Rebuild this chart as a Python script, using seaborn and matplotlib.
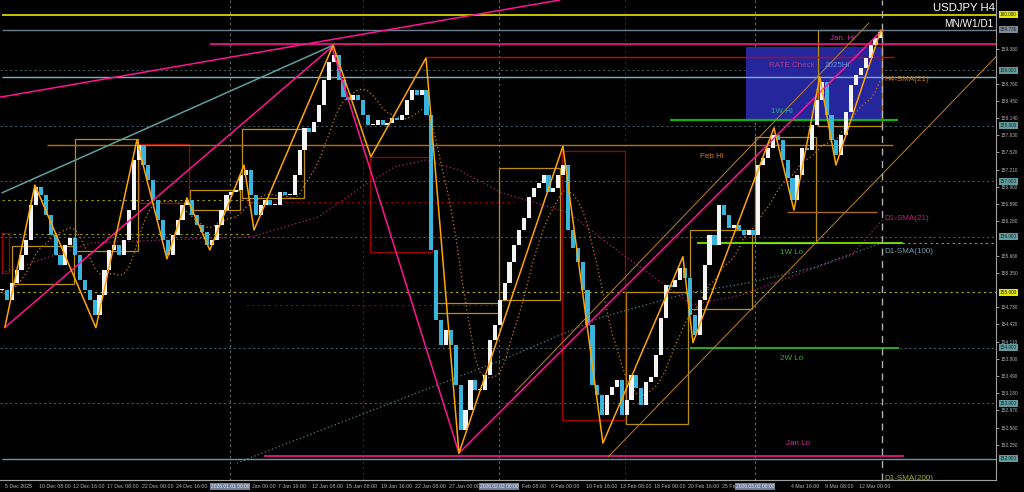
import numpy as np
import pandas as pd
import matplotlib.pyplot as plt
import matplotlib.transforms as mtrans
from matplotlib.patches import Rectangle
import seaborn as sns

# USDJPY H4 closes, one value every 2 H4 bars (5 Dec 2025 -> 13 Mar 2026)
closes = [155.04, 154.86, 155.17, 155.40, 155.67, 155.94, 156.57, 156.90, 156.75, 156.39,
          156.03, 155.67, 155.49, 155.85, 155.98, 155.67, 155.22, 155.04, 154.86, 154.59,
          154.95, 155.40, 155.76, 155.85, 155.67, 155.94, 156.48, 157.38, 157.65, 157.29,
          157.02, 156.66, 156.30, 155.94, 155.67, 156.03, 156.30, 156.57, 156.66, 156.39,
          156.21, 156.09, 155.85, 155.94, 156.21, 156.48, 156.75, 156.81, 156.84, 157.11,
          157.20, 156.75, 156.39, 156.57, 156.66, 156.57, 156.57, 156.81, 156.75, 156.75,
          157.11, 157.56, 157.96, 157.89, 158.07, 158.37, 158.82, 159.15, 159.27, 158.82,
          158.52, 158.46, 158.55, 158.46, 158.19, 158.01, 158.01, 158.10, 158.01, 158.05,
          158.14, 158.10, 158.19, 158.46, 158.64, 158.55, 158.64, 158.19, 155.76, 154.50,
          154.05, 154.32, 154.05, 153.33, 152.52, 152.88, 153.42, 153.24, 153.24, 153.51,
          154.14, 154.41, 154.86, 155.17, 155.54, 155.85, 156.12, 156.34, 156.72, 156.88,
          156.97, 157.11, 156.81, 156.88, 157.11, 157.29, 156.12, 155.80, 155.54, 155.04,
          154.41, 153.33, 153.15, 152.79, 153.15, 153.29, 153.42, 152.79, 153.06, 153.51,
          153.27, 152.97, 153.38, 153.47, 153.87, 154.54, 155.13, 155.09, 155.22, 155.44,
          155.26, 154.59, 154.23, 154.86, 155.49, 156.03, 155.85, 156.57, 156.39, 156.16,
          156.21, 156.12, 156.03, 156.12, 156.03, 157.29, 157.42, 157.60, 157.83, 157.74,
          157.38, 157.06, 156.66, 157.11, 157.60, 157.56, 158.01, 158.46, 158.79, 158.19,
          157.74, 157.47, 157.83, 158.25, 158.73, 158.91, 159.04, 159.22, 159.45, 159.58,
          159.69]

# zigzag swing points (bar index, price)
zz_bars = [1.2, 13.5, 38.5, 55.3, 67.6, 75.8, 85.2, 99.2, 103.3, 135.7, 151.2,
           173.8, 187.3, 229.9, 246.3, 279.1, 283.2, 316.4, 324.6, 335.2, 341.8, 360.2]
zz_prices = [154.37, 156.93, 154.36, 157.74, 155.60, 156.70, 155.76, 157.29, 156.12, 159.45, 157.44,
             159.22, 152.10, 157.63, 152.28, 155.64, 154.09, 157.96, 156.48, 158.88, 157.29, 159.72]

# daily moving averages
sma21_bars = [0, 36.9, 102.5, 129.9, 147.5, 161.1, 173.4, 187.3, 204.9, 232.4, 250.0,
              270.5, 282.8, 303.3, 330.7, 348.4, 360.7]
sma21_prices = [155.35, 155.89, 156.00, 156.36, 156.90, 157.26, 157.38, 157.20, 156.79, 156.43, 155.82,
                155.17, 154.77, 154.95, 155.40, 155.67, 156.30]
sma100_bars = [96.3, 102.5, 204.9, 245.9, 281.6, 306.1, 333.2, 360.7]
sma100_prices = [151.92, 152.03, 153.78, 154.55, 154.99, 155.17, 155.45, 155.89]

# trend lines: start/end (bar, price)
trend_x0 = [0, 1.1, 135.2, 187.3, 210.2, 248.4]
trend_p0 = [156.79, 154.36, 159.42, 152.10, 153.20, 152.03]
trend_x1 = [135.2, 135.2, 187.3, 360.7, 355.3, 408.0]
trend_p1 = [159.44, 159.42, 152.10, 159.72, 159.85, 159.27]
long_line = [(0, 158.52), (193.9, 160.00)]

# horizontal levels
level_prices = [160.00, 159.73, 159.47, 159.23, 158.87, 158.10, 157.66, 156.45, 155.88, 153.99, 152.05, 152.00]
level_from = [0, 0, 85.2, 173.8, 0, 273.8, 18.4, 321.7, 284.8, 282.0, 107.4, 0]
level_to = [408, 408, 408, 365.6, 408, 367.2, 365.2, 358.6, 369.3, 367.6, 369.7, 408]

# weekly range boxes (bar from, bar to, low, high)
wk_x0 = [4.1, 29.9, 77.0, 98.4, 177.0, 203.7, 255.7, 282.0, 308.6, 334.4]
wk_x1 = [29.5, 55.7, 97.5, 123.8, 203.7, 228.7, 281.1, 307.4, 333.6, 360.7]
wk_lo = [155.15, 155.74, 156.48, 156.70, 154.63, 154.86, 152.63, 154.70, 155.89, 158.00]
wk_hi = [155.83, 157.76, 156.84, 157.94, 154.81, 157.24, 155.00, 156.12, 157.80, 159.72]
rd_x0 = [0, 56.1, 150.8, 229.5]
rd_x1 = [2.9, 76.6, 176.2, 255.3]
rd_lo = [155.35, 156.61, 155.72, 152.70]
rd_hi = [156.07, 157.67, 157.44, 157.54]
rate_box = (304.9, 360.7, 158.10, 159.42)

# axis labels
price_ticks = [151.94, 152.25, 152.56, 152.87, 153.18, 153.49, 153.80, 154.11, 154.42, 154.73,
               155.04, 155.35, 155.66, 155.97, 156.28, 156.59, 156.90, 157.21, 157.52, 157.83,
               158.14, 158.45, 158.76, 159.07, 159.38, 159.69]
box_prices = [160.000, 159.730, 159.000, 158.000, 157.000, 156.000, 155.000, 154.000, 153.000, 152.000]
# labels partly hidden behind the separator boxes keep only their visible part
date_labels = ['5 Dec 2025', '10 Dec 08:00', '12 Dec 16:00', '17 Dec 08:00', '22 Dec 00:00',
               '24 Dec 16:00', '', 'Jan 00:00', '7 Jan 16:00', '12 Jan 08:00', '15 Jan 08:00',
               '19 Jan 16:00', '22 Jan 08:00', '27 Jan 00:00', '', 'Feb 08:00', '6 Feb 00:00',
               '10 Feb 16:00', '13 Feb 08:00', '18 Feb 00:00', '20 Feb 16:00', '25 Fe', '',
               '4 Mar 16:00', '9 Mar 08:00', '12 Mar 00:00']
date_shift = {7: 3.2, 15: 1.8}
sep_bars = [93.4, 203.7, 308.6]
sep_labels = ['2026.01.01 00:00', '2026.02.02 00:00', '2026.03.02 00:00']
red_sep_bars = [148.0, 255.3]
now_bar = 360.7

sns.set_theme(style='dark')
plt.rcParams['font.family'] = ['Liberation Sans', 'DejaVu Sans']

fig = plt.figure(figsize=(10.24, 4.92), dpi=100, facecolor='black')
ax = fig.add_axes([0, 12 / 492, 996 / 1024, 480 / 492])
ax.set_facecolor('black')
ax.set_xlim(-0.8, 407.4)
ax.set_ylim(151.616, 160.265)

# grid / separators
for p in [159, 158, 157, 156, 154, 153]:
    ax.axhline(p, color='#47646e', lw=0.7, ls=(0, (2, 3)), zorder=1)
ax.axhline(155.0, color='#b5b500', lw=0.8, ls=(0, (2, 3)), zorder=1)
ax.hlines([156.66, 156.05], 0, 102, color='#a0a000', lw=0.8, ls=(0, (2, 3)), zorder=1)
ax.hlines([156.62, 154.77], 100, 210, color='#9a0000', lw=0.8, ls=(0, (2, 3)), zorder=1)
ax.hlines(155.88, 360, 408, color='#a0a000', lw=0.8, ls=(0, (2, 3)), zorder=1)
for b in sep_bars:
    ax.axvline(b, color='#6a6a6a', lw=0.8, ls=(0, (2, 3)), zorder=1)
for b in red_sep_bars:
    ax.axvline(b, color='#8a0000', lw=0.8, ls=(0, (2, 3)), zorder=1)
ax.axvline(now_bar, color='#b0b0b0', lw=1.0, ls=(0, (5, 4)), zorder=6)

# boxes
ax.add_patch(Rectangle((rate_box[0], rate_box[2]), rate_box[1] - rate_box[0], rate_box[3] - rate_box[2],
                       facecolor='#26269c', edgecolor='none', zorder=1.5))
for x0, x1, lo, hi in zip(wk_x0, wk_x1, wk_lo, wk_hi):
    ax.add_patch(Rectangle((x0, lo), x1 - x0, hi - lo, fill=False, edgecolor='#b8900b', lw=0.9, zorder=2))
for x0, x1, lo, hi in zip(rd_x0, rd_x1, rd_lo, rd_hi):
    ax.add_patch(Rectangle((x0, lo), x1 - x0, hi - lo, fill=False, edgecolor='#a00000', lw=0.9, zorder=2))

# candles
c = np.array(closes)
o = np.r_[c[0], c[:-1]]
bars = np.arange(len(c)) * 2.0
up = c >= o
h = np.maximum(np.abs(c - o), 0.02)
ax.bar(bars[up], h[up], bottom=o[up], width=1.7, color='#f4f4f4', linewidth=0, zorder=4)
ax.bar(bars[~up], h[~up], bottom=c[~up], width=1.7, color='#39b4dc', linewidth=0, zorder=4)

# moving averages
sma_h4 = pd.Series(c).rolling(10, min_periods=1).mean()
sns.lineplot(x=bars, y=sma_h4.values, ax=ax, color='#c87a14', lw=0.9, ls=(0, (1, 2)), zorder=3)
sns.lineplot(x=sma21_bars, y=sma21_prices, ax=ax, color='#b0206e', lw=0.9, ls=(0, (1, 2)), zorder=3)
sns.lineplot(x=sma100_bars, y=sma100_prices, ax=ax, color='#4f7f8a', lw=0.9, ls=(0, (1, 2)), zorder=3)

# horizontal levels
level_colors = ['#e6e600', '#6e7d8c', '#ff1493', '#d00000', '#74b4c4', '#10b010',
                '#c07000', '#a86a10', '#7cfc00', '#20b020', '#ff1493', '#5f9ea0']
level_widths = [1.2, 1.0, 1.2, 1.0, 1.0, 1.6, 1.0, 1.0, 1.2, 1.4, 1.2, 1.0]
for p, x0, x1, col, w in zip(level_prices, level_from, level_to, level_colors, level_widths):
    ax.hlines(p, x0, x1, color=col, lw=w, zorder=3)

# trend lines
trend_colors = ['#5f9ea0', '#ff1493', '#ff1493', '#ff1493', '#c08020', '#c08020']
trend_widths = [1.1, 1.1, 1.1, 1.1, 0.7, 0.7]
for x0, p0, x1, p1, col, w in zip(trend_x0, trend_p0, trend_x1, trend_p1, trend_colors, trend_widths):
    sns.lineplot(x=[x0, x1], y=[p0, p1], ax=ax, color=col, lw=w, zorder=5)
ax.axline(long_line[0], long_line[1], color='#ff1493', lw=1.1, zorder=5)

# zigzag
sns.lineplot(x=zz_bars, y=zz_prices, ax=ax, color='#ffa500', lw=1.1, sort=False, estimator=None, zorder=5)

# text labels
lab = dict(fontsize=5.8, zorder=7)
ax.text(344.3, 159.58, 'Jan. Hi', color='#e0308f', ha='center', va='center', **lab)
ax.text(323.8, 159.09, 'RATE Check', color='#b8347f', ha='center', va='center', **lab)
ax.text(342.2, 159.09, '2025Hi', color='#6a8fd8', ha='center', va='center', **lab)
ax.text(361.5, 158.84, 'H4-SMA(21)', color='#c87a14', ha='left', va='center', **lab)
ax.text(319.7, 158.25, '1W Hi', color='#2aa58a', ha='center', va='center', **lab)
ax.text(291.0, 157.44, 'Feb Hi', color='#e07800', ha='center', va='center', **lab)
ax.text(361.5, 156.32, 'D1-SMA(21)', color='#c0207a', ha='left', va='center', **lab)
ax.text(323.8, 155.71, '1W Lo', color='#20c020', ha='center', va='center', **lab)
ax.text(361.5, 155.73, 'D1-SMA(100)', color='#7a9aaa', ha='left', va='center', **lab)
ax.text(323.8, 153.80, '2W Lo', color='#20c020', ha='center', va='center', **lab)
ax.text(326.2, 152.27, 'Jan Lo', color='#d0309a', ha='center', va='center', **lab)
ax.text(361.5, 151.64, 'D1-SMA(200)', color='#a0b020', ha='left', va='center', clip_on=True, **lab)

fig.text(995 / 1024, 1 - 8 / 492, 'USDJPY H4', color='white', fontsize=8.2, ha='right', va='center')
fig.text(993 / 1024, 1 - 24 / 492, 'MN/W1/D1', color='white', fontsize=7.2, ha='right', va='center')

# price axis on the right
for s in ['left', 'top']:
    ax.spines[s].set_visible(False)
for s in ['right', 'bottom']:
    ax.spines[s].set_color('#a0a0a0')
    ax.spines[s].set_linewidth(0.8)
ax.yaxis.tick_right()
shown = [t for t in price_ticks if min(abs(t - b) for b in box_prices) > 0.08]
ax.set_yticks(shown)
ax.set_yticklabels([f'{t:.3f}' for t in shown])
ax.tick_params(axis='y', colors='#b4b4b4', labelsize=3.4, length=2, width=0.6, pad=1.5)

ytr = mtrans.blended_transform_factory(ax.transAxes, ax.transData)
box_fc = ['#e6e600', '#7d8b99', '#5f9ea0', '#5f9ea0', '#5f9ea0', '#5f9ea0', '#e6e600',
          '#5f9ea0', '#5f9ea0', '#5f9ea0']
for p, fc in zip(box_prices, box_fc):
    ax.text(1.004, p, f'{p:.3f}', transform=ytr, fontsize=3.4, color='#202020', ha='left', va='center',
            bbox=dict(boxstyle='square,pad=0.2', fc=fc, ec='none'), clip_on=False, zorder=8)

# date axis
date_ticks = [0.7 + 14 * k for k in range(len(date_labels))]
ax.set_xticks(date_ticks)
ax.set_xticklabels([])
ax.tick_params(axis='x', colors='#a0a0a0', length=2.5, width=0.6, direction='out')
xtr = mtrans.blended_transform_factory(ax.transData, ax.transAxes)
for k, (t, s) in enumerate(zip(date_ticks, date_labels)):
    if s:
        ax.text(t + 0.5 + date_shift.get(k, 0), -0.008, s, transform=xtr, fontsize=3.8, color='#b4b4b4',
                ha='left', va='top', clip_on=False)
for b, s in zip(sep_bars, sep_labels):
    ax.text(b, -0.008, s, transform=xtr, fontsize=3.5, color='#e8e8e8', ha='center', va='top',
            bbox=dict(boxstyle='square,pad=0.2', fc='#6f7f9a', ec='none'), clip_on=False, zorder=9)

ax.set_xlabel('')
ax.set_ylabel('')
fig.savefig('out.png', dpi=100, facecolor='black')
